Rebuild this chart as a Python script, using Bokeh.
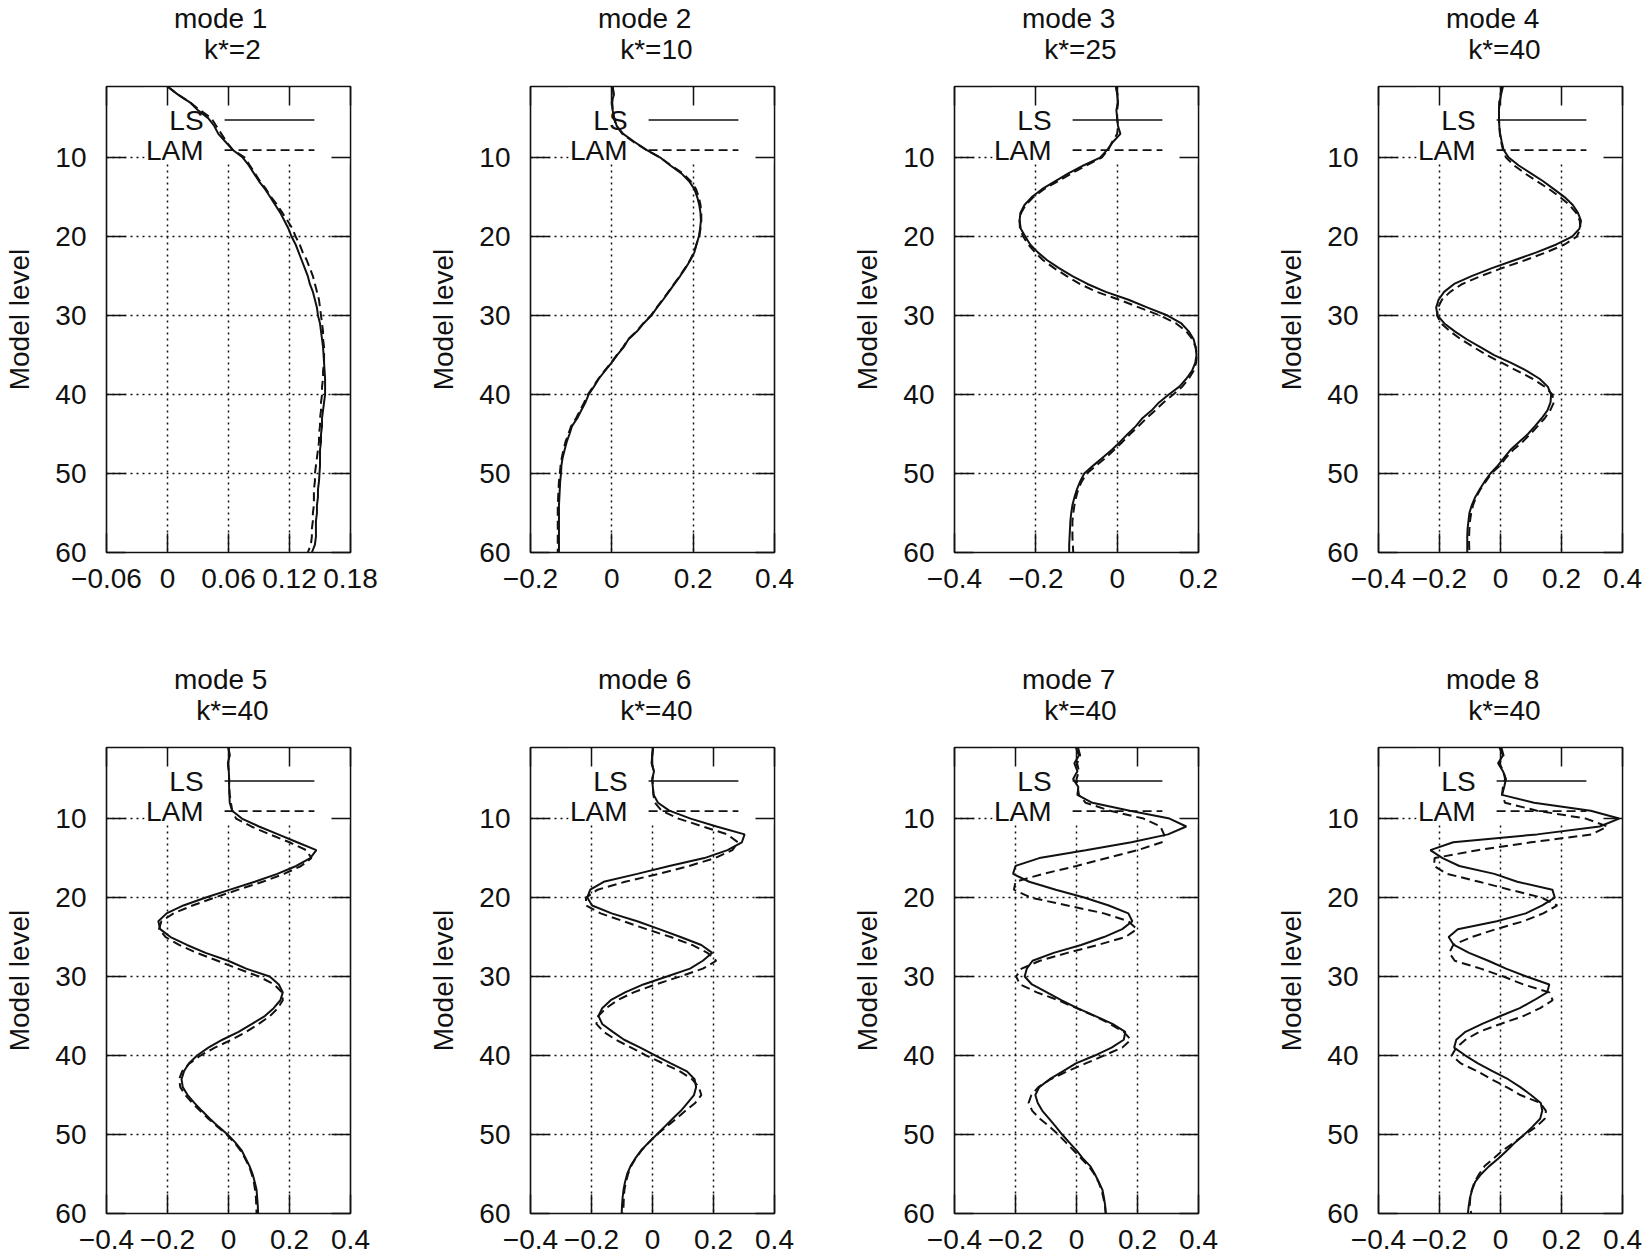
from bokeh.plotting import figure
from bokeh.layouts import column, row
from bokeh.models import Range1d, FixedTicker, LinearAxis, Label, CustomJSTickFormatter
from bokeh.embed import file_html
from bokeh.resources import INLINE

# ---------------- data ----------------
LEVELS = list(range(1, 61))

MODE1_LS = [0.000, 0.010, 0.022, 0.030, 0.040, 0.046, 0.050, 0.057, 0.064, 0.074,
            0.080, 0.085, 0.090, 0.096, 0.101, 0.106, 0.111, 0.115, 0.119, 0.122,
            0.126, 0.129, 0.132, 0.135, 0.138, 0.140, 0.143, 0.145, 0.147, 0.148,
            0.150, 0.151, 0.152, 0.153, 0.1535, 0.154, 0.1545, 0.155, 0.155, 0.155,
            0.154, 0.153, 0.152, 0.152, 0.151, 0.151, 0.150, 0.150, 0.150, 0.1495,
            0.149, 0.148, 0.148, 0.147, 0.147, 0.146, 0.146, 0.146, 0.145, 0.142]
MODE1_LAM = [0.000, 0.010, 0.022, 0.032, 0.043, 0.048, 0.053, 0.058, 0.064, 0.076,
             0.081, 0.086, 0.091, 0.097, 0.102, 0.108, 0.113, 0.118, 0.123, 0.126,
             0.130, 0.133, 0.137, 0.140, 0.143, 0.145, 0.147, 0.149, 0.150, 0.151,
             0.152, 0.153, 0.153, 0.154, 0.154, 0.154, 0.153, 0.153, 0.152, 0.152,
             0.151, 0.151, 0.150, 0.150, 0.149, 0.149, 0.148, 0.147, 0.146, 0.145,
             0.145, 0.144, 0.144, 0.144, 0.143, 0.143, 0.142, 0.142, 0.141, 0.138]

MODE2_LS = [0.002, 0.005, 0.000, 0.002, 0.006, 0.012, 0.028, 0.055, 0.084, 0.119,
            0.144, 0.171, 0.190, 0.203, 0.210, 0.215, 0.218, 0.219, 0.217, 0.214,
            0.208, 0.203, 0.193, 0.181, 0.168, 0.154, 0.140, 0.126, 0.111, 0.097,
            0.078, 0.062, 0.041, 0.029, 0.013, -0.001, -0.017, -0.032, -0.044, -0.057,
            -0.065, -0.075, -0.085, -0.098, -0.104, -0.111, -0.116, -0.121, -0.124, -0.125,
            -0.127, -0.128, -0.129, -0.130, -0.130, -0.130, -0.130, -0.130, -0.130, -0.130]
MODE2_LAM = [0.002, 0.004, 0.001, 0.002, 0.005, 0.011, 0.026, 0.053, 0.084, 0.119,
             0.146, 0.175, 0.194, 0.207, 0.214, 0.218, 0.220, 0.220, 0.218, 0.215,
             0.208, 0.202, 0.192, 0.180, 0.167, 0.153, 0.139, 0.125, 0.110, 0.096,
             0.077, 0.061, 0.040, 0.028, 0.012, -0.002, -0.018, -0.033, -0.046, -0.059,
             -0.068, -0.078, -0.088, -0.100, -0.107, -0.114, -0.119, -0.123, -0.126, -0.128,
             -0.130, -0.131, -0.132, -0.133, -0.133, -0.133, -0.133, -0.133, -0.133, -0.133]

MODE3_LS = [-0.003, 0.000, 0.002, -0.002, 0.000, 0.002, 0.008, -0.010, -0.024, -0.042,
            -0.083, -0.120, -0.153, -0.185, -0.210, -0.228, -0.238, -0.240, -0.237, -0.226,
            -0.214, -0.195, -0.172, -0.143, -0.110, -0.073, -0.028, 0.028, 0.075, 0.124,
            0.158, 0.176, 0.188, 0.193, 0.195, 0.192, 0.184, 0.170, 0.153, 0.127,
            0.103, 0.085, 0.062, 0.046, 0.026, 0.007, -0.013, -0.036, -0.059, -0.081,
            -0.091, -0.099, -0.105, -0.110, -0.113, -0.115, -0.116, -0.117, -0.118, -0.118]
MODE3_LAM = [-0.003, 0.001, 0.002, 0.000, 0.000, 0.002, 0.000, -0.012, -0.022, -0.038,
             -0.076, -0.112, -0.146, -0.180, -0.206, -0.225, -0.236, -0.240, -0.239, -0.231,
             -0.219, -0.202, -0.182, -0.155, -0.124, -0.092, -0.050, 0.005, 0.055, 0.106,
             0.145, 0.170, 0.185, 0.193, 0.196, 0.194, 0.188, 0.176, 0.160, 0.138,
             0.114, 0.094, 0.072, 0.053, 0.032, 0.013, -0.007, -0.028, -0.052, -0.075,
             -0.087, -0.096, -0.101, -0.105, -0.108, -0.110, -0.110, -0.110, -0.109, -0.108]

MODE4_LS = [0.008, 0.002, -0.003, -0.005, -0.005, -0.004, -0.001, 0.004, 0.010, 0.027,
            0.060, 0.100, 0.140, 0.175, 0.210, 0.237, 0.254, 0.264, 0.259, 0.235,
            0.183, 0.118, 0.045, -0.028, -0.095, -0.152, -0.185, -0.203, -0.211, -0.206,
            -0.184, -0.150, -0.111, -0.066, -0.021, 0.035, 0.086, 0.128, 0.155, 0.166,
            0.164, 0.154, 0.135, 0.113, 0.090, 0.061, 0.033, 0.012, -0.009, -0.033,
            -0.052, -0.068, -0.083, -0.094, -0.102, -0.105, -0.108, -0.109, -0.109, -0.109]
MODE4_LAM = [0.005, 0.000, -0.004, -0.005, -0.005, -0.004, -0.002, 0.002, 0.008, 0.018,
             0.045, 0.080, 0.120, 0.160, 0.195, 0.226, 0.248, 0.260, 0.262, 0.250,
             0.210, 0.150, 0.080, 0.005, -0.065, -0.125, -0.165, -0.192, -0.205, -0.208,
             -0.195, -0.165, -0.130, -0.088, -0.045, 0.005, 0.055, 0.105, 0.145, 0.170,
             0.175, 0.163, 0.145, 0.122, 0.098, 0.072, 0.042, 0.018, -0.002, -0.030,
             -0.048, -0.066, -0.080, -0.090, -0.096, -0.100, -0.102, -0.103, -0.103, -0.102]

MODE5_LS = [0.000, 0.004, -0.002, 0.001, 0.002, 0.002, 0.003, 0.004, 0.012, 0.044,
            0.100, 0.163, 0.225, 0.288, 0.268, 0.222, 0.160, 0.086, 0.005, -0.074,
            -0.148, -0.203, -0.230, -0.224, -0.190, -0.136, -0.075, -0.001, 0.058, 0.135,
            0.165, 0.178, 0.170, 0.148, 0.119, 0.077, 0.033, -0.020, -0.066, -0.103,
            -0.130, -0.146, -0.154, -0.150, -0.134, -0.112, -0.087, -0.061, -0.033, -0.003,
            0.022, 0.043, 0.056, 0.069, 0.079, 0.086, 0.092, 0.094, 0.096, 0.097]
MODE5_LAM = [0.000, 0.003, -0.001, 0.001, 0.002, 0.002, 0.004, 0.008, 0.012, 0.025,
             0.075, 0.135, 0.200, 0.255, 0.272, 0.238, 0.182, 0.112, 0.032, -0.045,
             -0.118, -0.180, -0.220, -0.228, -0.206, -0.162, -0.104, -0.036, 0.030, 0.100,
             0.150, 0.175, 0.178, 0.162, 0.136, 0.099, 0.058, 0.010, -0.045, -0.092,
             -0.128, -0.152, -0.162, -0.158, -0.142, -0.119, -0.093, -0.066, -0.036, -0.006,
             0.019, 0.039, 0.054, 0.067, 0.076, 0.083, 0.087, 0.090, 0.091, 0.092]

MODE6_LS = [0.002, -0.001, -0.003, 0.005, -0.001, 0.001, 0.004, 0.018, 0.055, 0.125,
            0.210, 0.302, 0.293, 0.246, 0.170, 0.055, -0.050, -0.160, -0.204, -0.214,
            -0.198, -0.134, -0.050, 0.022, 0.092, 0.160, 0.196, 0.165, 0.123, 0.047,
            -0.030, -0.090, -0.137, -0.165, -0.177, -0.165, -0.130, -0.093, -0.040, 0.010,
            0.060, 0.113, 0.138, 0.143, 0.136, 0.115, 0.093, 0.066, 0.040, 0.014,
            -0.012, -0.037, -0.056, -0.072, -0.083, -0.090, -0.095, -0.098, -0.100, -0.101]
MODE6_LAM = [0.002, -0.001, -0.002, 0.004, 0.000, 0.001, 0.003, 0.008, 0.030, 0.085,
             0.165, 0.245, 0.280, 0.262, 0.205, 0.120, 0.020, -0.090, -0.180, -0.218,
             -0.218, -0.170, -0.095, -0.020, 0.060, 0.130, 0.180, 0.209, 0.165, 0.090,
             0.010, -0.062, -0.115, -0.152, -0.178, -0.184, -0.160, -0.120, -0.070, -0.020,
             0.035, 0.090, 0.130, 0.152, 0.160, 0.140, 0.108, 0.078, 0.046, 0.015,
             -0.012, -0.036, -0.055, -0.070, -0.080, -0.087, -0.092, -0.094, -0.095, -0.096]

MODE7_LS = [-0.002, 0.008, -0.007, 0.003, -0.011, 0.006, 0.003, 0.052, 0.175, 0.305,
            0.360, 0.300, 0.180, 0.030, -0.122, -0.200, -0.208, -0.155, -0.068, 0.025,
            0.106, 0.170, 0.183, 0.150, 0.090, 0.015, -0.075, -0.144, -0.163, -0.170,
            -0.146, -0.097, -0.050, 0.003, 0.062, 0.118, 0.160, 0.155, 0.115, 0.060,
            -0.002, -0.045, -0.088, -0.122, -0.135, -0.127, -0.112, -0.090, -0.068, -0.047,
            -0.024, 0.000, 0.020, 0.045, 0.060, 0.073, 0.085, 0.090, 0.094, 0.096]
MODE7_LAM = [0.005, 0.012, 0.002, 0.008, 0.000, 0.004, 0.008, 0.030, 0.110, 0.220,
             0.275, 0.287, 0.280, 0.200, 0.100, 0.000, -0.110, -0.200, -0.205, -0.150,
             -0.030, 0.090, 0.170, 0.198, 0.160, 0.070, -0.030, -0.120, -0.180, -0.198,
             -0.185, -0.130, -0.060, 0.000, 0.060, 0.110, 0.155, 0.178, 0.150, 0.090,
             0.030, -0.030, -0.085, -0.125, -0.148, -0.157, -0.145, -0.120, -0.088, -0.060,
             -0.035, -0.010, 0.015, 0.040, 0.058, 0.072, 0.082, 0.088, 0.093, 0.096]

MODE8_LS = [-0.003, 0.008, -0.008, 0.008, 0.018, 0.012, 0.005, 0.110, 0.296, 0.389,
            0.325, 0.120, -0.155, -0.230, -0.190, -0.135, -0.020, 0.055, 0.170, 0.178,
            0.137, 0.083, -0.012, -0.140, -0.170, -0.153, -0.103, -0.040, 0.018, 0.085,
            0.160, 0.153, 0.110, 0.063, 0.000, -0.060, -0.115, -0.145, -0.152, -0.115,
            -0.074, -0.025, 0.025, 0.065, 0.100, 0.132, 0.137, 0.130, 0.105, 0.078,
            0.048, 0.022, -0.006, -0.037, -0.063, -0.083, -0.093, -0.100, -0.104, -0.107]
MODE8_LAM = [0.003, 0.010, -0.004, 0.010, 0.015, 0.008, 0.005, 0.015, 0.120, 0.280,
             0.350, 0.300, 0.100, -0.075, -0.216, -0.218, -0.175, -0.070, 0.030, 0.135,
             0.186, 0.140, 0.075, -0.015, -0.095, -0.155, -0.168, -0.150, -0.065, 0.010,
             0.075, 0.160, 0.171, 0.130, 0.075, 0.000, -0.070, -0.115, -0.145, -0.160,
             -0.130, -0.075, -0.030, 0.020, 0.065, 0.130, 0.149, 0.145, 0.118, 0.080,
             0.045, 0.008, -0.022, -0.052, -0.070, -0.085, -0.094, -0.099, -0.101, -0.096]

MODE_TITLES = ["mode 1", "mode 2", "mode 3", "mode 4", "mode 5", "mode 6", "mode 7", "mode 8"]
KSTAR_TITLES = ["k*=2", "k*=10", "k*=25", "k*=40", "k*=40", "k*=40", "k*=40", "k*=40"]
X_RANGES = [(-0.06, 0.18), (-0.2, 0.4), (-0.4, 0.2), (-0.4, 0.4),
            (-0.4, 0.4), (-0.4, 0.4), (-0.4, 0.4), (-0.4, 0.4)]
X_TICKS = [[-0.06, 0, 0.06, 0.12, 0.18], [-0.2, 0, 0.2, 0.4], [-0.4, -0.2, 0, 0.2],
           [-0.4, -0.2, 0, 0.2, 0.4], [-0.4, -0.2, 0, 0.2, 0.4], [-0.4, -0.2, 0, 0.2, 0.4],
           [-0.4, -0.2, 0, 0.2, 0.4], [-0.4, -0.2, 0, 0.2, 0.4]]
Y_TICKS = [10, 20, 30, 40, 50, 60]
Y_LABEL = "Model level"
LEGEND_LABELS = ["LS", "LAM"]

LS_ALL = [MODE1_LS, MODE2_LS, MODE3_LS, MODE4_LS, MODE5_LS, MODE6_LS, MODE7_LS, MODE8_LS]
LAM_ALL = [MODE1_LAM, MODE2_LAM, MODE3_LAM, MODE4_LAM, MODE5_LAM, MODE6_LAM, MODE7_LAM, MODE8_LAM]
for s in LS_ALL + LAM_ALL:
    assert len(s) == len(LEVELS), len(s)

# ---------------- style ----------------
FONT = "Liberation Sans"
FS = "28px"
INK = "#111111"
FW, FH = 244, 466
TICK_LEN = 19
LAM_DASH = "9 5"
GRID_DASH = "2 4"
NBSP = "\u00a0"

fmt = CustomJSTickFormatter(code="""
const t = Math.round(tick * 1000) / 1000;
return t < 0 ? "\u2212" + (-t).toString() : t.toString();
""")


def style_axis(ax, labels=True):
    ax.axis_line_color = None
    ax.major_tick_in = TICK_LEN
    ax.major_tick_out = 0
    ax.major_tick_line_color = INK
    ax.major_tick_line_width = 1.5
    ax.minor_tick_line_color = None
    if labels:
        ax.major_label_text_font = FONT
        ax.major_label_text_font_size = FS
        ax.major_label_text_color = INK
    else:
        ax.major_label_text_color = None
        ax.major_label_text_font_size = "1px"
        ax.major_label_standoff = 0


def make_panel(i, first_row, last_col):
    x0, x1 = X_RANGES[i]
    w = x1 - x0
    p = figure(frame_width=FW, frame_height=FH, output_backend="svg", toolbar_location=None,
               title_location=None,
               x_range=Range1d(x0, x1), y_range=Range1d(60, 1),
               min_border_left=106, min_border_right=27 if last_col else 74,
               min_border_top=86 if first_row else 139,
               min_border_bottom=56 if first_row else 45)
    p.background_fill_color = "white"
    p.border_fill_color = "white"
    p.outline_line_color = INK
    p.outline_line_width = 1.6

    xt = FixedTicker(ticks=X_TICKS[i])
    yt = FixedTicker(ticks=Y_TICKS)
    p.xaxis.ticker = xt
    p.xaxis.formatter = fmt
    p.yaxis.ticker = yt
    for ax in p.xaxis:
        style_axis(ax)
        ax.major_label_standoff = 16
    for ax in p.yaxis:
        style_axis(ax)
        ax.major_label_standoff = 20
        ax.axis_label = Y_LABEL
        ax.axis_label_text_font = FONT
        ax.axis_label_text_font_size = FS
        ax.axis_label_text_font_style = "normal"
        ax.axis_label_text_color = INK
        ax.axis_label_standoff = 17

    # mirrored top axis (ticks only) carrying the two-line panel title
    top = LinearAxis(ticker=FixedTicker(ticks=X_TICKS[i]))
    style_axis(top, labels=False)
    top.axis_label = MODE_TITLES[i] + NBSP * 2 + "\n" + NBSP + KSTAR_TITLES[i]
    top.axis_label_text_font = FONT
    top.axis_label_text_font_size = FS
    top.axis_label_text_font_style = "normal"
    top.axis_label_text_color = INK
    top.axis_label_text_line_height = 0.975
    top.axis_label_standoff = 22
    p.add_layout(top, "above")
    right = LinearAxis(ticker=FixedTicker(ticks=Y_TICKS))
    style_axis(right, labels=False)
    p.add_layout(right, "right")

    for g in (p.xgrid, p.ygrid):
        g.grid_line_color = INK
        g.grid_line_dash = GRID_DASH
        g.grid_line_width = 1.5
    p.xgrid.ticker = xt
    p.ygrid.ticker = yt

    # key area: blank out the grid behind the key (as gnuplot does)
    px = w / FW
    py = 59.0 / FH
    p.quad(left=x0 + 0.156 * w, right=x1 - 1.2 * px, top=1 + 1.2 * py, bottom=10.8,
           fill_color="white", line_color=None)

    # curves
    p.line(LS_ALL[i], LEVELS, line_color=INK, line_width=2.0)
    p.line(LAM_ALL[i], LEVELS, line_color=INK, line_width=2.0, line_dash=LAM_DASH)

    # key
    for lab, yk, dash in zip(LEGEND_LABELS, [5.25, 9.05], ["solid", LAM_DASH]):
        p.add_layout(Label(x=x0 + 0.398 * w, y=yk, x_units="data", y_units="data", text=lab,
                           text_align="right", text_baseline="middle",
                           text_font=FONT, text_font_size=FS, text_color=INK))
        p.line([x0 + 0.484 * w, x0 + 0.852 * w], [yk, yk], line_color=INK,
               line_width=1.6, line_dash=dash)
    return p


panels = [make_panel(i, i < 4, i % 4 == 3) for i in range(8)]
layout = column(row(*panels[:4], spacing=0), row(*panels[4:], spacing=0), spacing=0)

open("out.html", "w").write(file_html(layout, INLINE))
